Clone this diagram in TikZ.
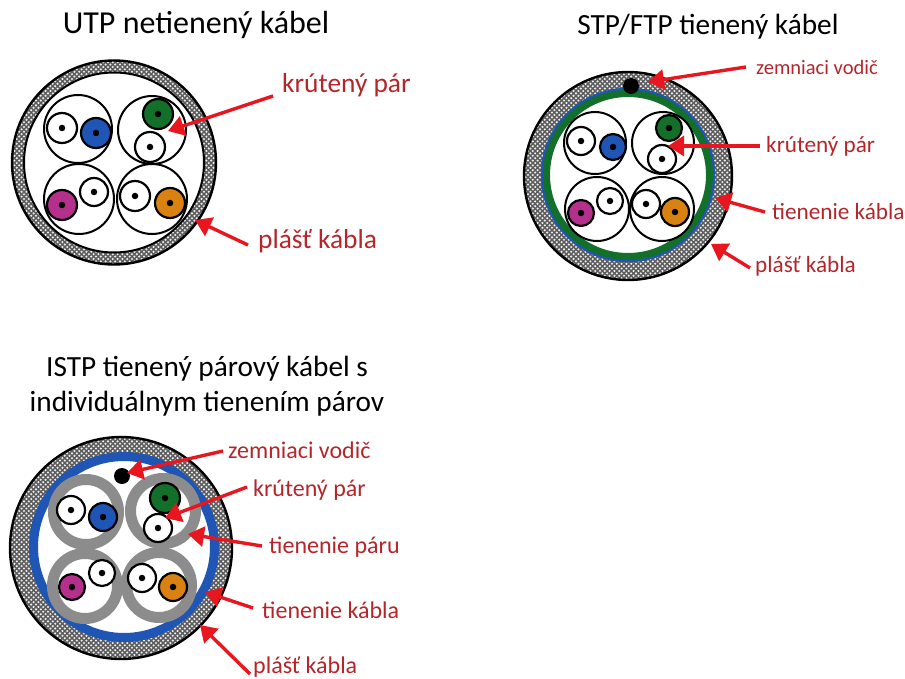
\documentclass[tikz,border=0pt]{standalone}
\usepackage{fontspec}
\setmainfont{Carlito}
\usetikzlibrary{arrows.meta,patterns}
\pgfdeclarepatternformonly{jacketdots}{\pgfqpoint{-2pt}{-2pt}}{\pgfqpoint{6pt}{6pt}}{\pgfqpoint{4.8pt}{4.8pt}}{%
  \pgfpathcircle{\pgfqpoint{0pt}{0pt}}{1.15pt}%
  \pgfpathcircle{\pgfqpoint{2.4pt}{2.4pt}}{1.15pt}%
  \pgfusepath{fill}}
\definecolor{lblred}{HTML}{B5262B}
\definecolor{arrred}{HTML}{E8161F}
\definecolor{wblue}{HTML}{1F55B5}
\definecolor{wgreen}{HTML}{12702A}
\definecolor{wmag}{HTML}{B5308C}
\definecolor{worange}{HTML}{D98212}
\definecolor{shield}{HTML}{8C8C8C}
\tikzset{
  disc/.style={circle,inner sep=0pt,outer sep=0pt,line width=#1},
  disc/.default=2pt,
  jacket/.style={disc=2.4pt,draw=black,preaction={fill=black!64},pattern=jacketdots,pattern color=black!6},
  pairc/.style={disc=2pt,draw=black,fill=white},
  ringc/.style={disc=11pt,draw=shield,fill=white},
  grounddot/.style={circle,inner sep=0pt,fill=black,minimum size=16pt},
  core/.style={circle,inner sep=0pt,fill=black,minimum size=6.5pt},
  title/.style={font=\fontsize{32}{36}\selectfont,text=black,inner sep=0pt},
  titlesm/.style={font=\fontsize{29.3}{33}\selectfont,text=black,inner sep=0pt},
  lbl/.style={font=\fontsize{27.4}{32}\selectfont,text=lblred,inner sep=0pt},
  lblb/.style={font=\fontsize{23.2}{27}\selectfont,text=lblred,inner sep=0pt},
  lblc/.style={font=\fontsize{24}{28}\selectfont,text=lblred,inner sep=0pt},
  lblsm/.style={font=\fontsize{20.5}{24}\selectfont,text=lblred,inner sep=0pt},
  redarrow/.style={draw=arrred,line width=3.4pt,-{Triangle[length=16pt,width=20pt]}}
}
\newcommand{\wire}[5]{% name x y r colour
  \node[disc=2.2pt,draw=black,fill=#5,minimum size=#4*2pt] (#1) at (#2,#3) {};
  \node[core] at (#1) {};
}
\newcommand{\pairdisc}[5][pairc]{\node[#1,minimum size=#5*2pt] (#2) at (#3,#4) {};}
\begin{document}
\begin{tikzpicture}[x=1pt,y=-1pt]
\useasboundingbox (0,0) rectangle (905,679);
\fill[white] (0,0) rectangle (905,679);

% ---- UTP
\node[title] (t1) at (196,25) {UTP netienený kábel};
\node[jacket,minimum size=204pt] (a0) at (114,162.5) {};
\node[disc=2pt,draw=black,fill=white,minimum size=180pt] (a1) at (114,162.5) {};
\pairdisc{ap1}{78}{129}{34}
\pairdisc{ap2}{152}{130}{34}
\pairdisc{ap3}{79}{199}{35}
\pairdisc{ap4}{152}{199}{35}
\wire{aw1}{62}{128}{15}{white}
\wire{aw2}{96}{133}{15}{wblue}
\wire{aw3}{158}{114}{15}{wgreen}
\wire{aw4}{150}{147}{15}{white}
\wire{aw5}{62}{205}{15}{wmag}
\wire{aw6}{94}{192}{14}{white}
\wire{aw7}{135}{196}{15}{white}
\wire{aw8}{170}{203}{15}{worange}
\node[lbl,anchor=west] (al1) at (282,85) {krútený pár};
\node[lbl,anchor=west] (al2) at (258,241) {plášť kábla};
\coordinate (ah1) at (168,131);
\coordinate (ah2) at (195,220);
\draw[redarrow] ([shift={(-9,11)}]al1.west) -- (ah1);
\draw[redarrow] ([shift={(-10,4)}]al2.west) -- (ah2);

% ---- STP/FTP
\node[titlesm] (t2) at (708,27) {STP/FTP tienený kábel};
\node[jacket,minimum size=208pt] (b0) at (628,176) {};
\node[disc=0pt,fill=wblue,minimum size=174.5pt] (b1) at (628,175) {};
\node[disc=7pt,draw=wgreen,fill=white,minimum size=163pt] (b2) at (628,175) {};
\node[grounddot] (bg) at (631,86) {};
\pairdisc{bp1}{595}{143}{31}
\pairdisc{bp2}{663}{143}{31}
\pairdisc{bp3}{597}{209}{32}
\pairdisc{bp4}{662}{209}{32}
\wire{bw1}{581}{141}{14}{white}
\wire{bw2}{613}{147}{13}{wblue}
\wire{bw3}{669}{128}{13}{wgreen}
\wire{bw4}{662}{159}{14}{white}
\wire{bw5}{581}{213}{13}{wmag}
\wire{bw6}{610}{201}{13}{white}
\wire{bw7}{646}{204}{14}{white}
\wire{bw8}{675}{212}{14}{worange}
\node[lblsm,anchor=west] (bl1) at (756,67) {zemniaci vodič};
\node[lblb,anchor=west] (bl2) at (766,146) {krútený pár};
\node[lblb,anchor=west] (bl3) at (772,212) {tienenie kábla};
\node[lblb,anchor=west] (bl4) at (755,266) {plášť kábla};
\coordinate (bh1) at (648,82);
\coordinate (bh2) at (668,146);
\coordinate (bh3) at (715,198);
\coordinate (bh4) at (711,244);
\draw[redarrow] ([xshift=-10]bl1.west) -- (bh1);
\draw[redarrow] ([xshift=-6]bl2.west) -- (bh2);
\draw[redarrow] ([xshift=-7]bl3.west) -- (bh3);
\draw[redarrow] ([shift={(-5,2)}]bl4.west) -- (bh4);

% ---- ISTP
\node[titlesm,align=center] (t3) at (207,386) {ISTP tienený párový kábel s\\[1.5pt]individuálnym tienením párov};
\node[jacket,minimum size=222pt] (c0) at (121,548) {};
\node[disc=9pt,draw=wblue,fill=white,minimum size=181pt] (c1) at (124,547) {};
\node[grounddot] (cg) at (122,476) {};
\pairdisc[ringc]{cp1}{86}{512}{32.5}
\pairdisc[ringc]{cp2}{163}{511}{32.5}
\pairdisc[ringc]{cp3}{85}{586}{32.5}
\pairdisc[ringc]{cp4}{159}{585}{32.5}
\wire{cw1}{71}{510}{14}{white}
\wire{cw2}{103}{517}{14}{wblue}
\wire{cw3}{165}{498}{15}{wgreen}
\wire{cw4}{158}{528}{14}{white}
\wire{cw5}{72}{587}{13}{wmag}
\wire{cw6}{102}{573}{13}{white}
\wire{cw7}{142}{578}{14}{white}
\wire{cw8}{173}{587}{14}{worange}
\node[lblc,anchor=west] (cl1) at (228,450) {zemniaci vodič};
\node[lblc,anchor=west] (cl2) at (253,490) {krútený pár};
\node[lblc,anchor=west] (cl3) at (269,547) {tienenie páru};
\node[lblc,anchor=west] (cl4) at (262,610) {tienenie kábla};
\node[lblc,anchor=west] (cl5) at (253,667) {plášť kábla};
\coordinate (ch1) at (127,473);
\coordinate (ch2) at (165,518);
\coordinate (ch3) at (188,534);
\coordinate (ch4) at (205,592);
\coordinate (ch5) at (200,625);
\draw[redarrow] ([shift={(-5,1)}]cl1.west) -- (ch1);
\draw[redarrow] ([shift={(-6,-3)}]cl2.west) -- (ch2);
\draw[redarrow] ([xshift=-7,yshift=1]cl3.west) -- (ch3);
\draw[redarrow] ([xshift=-9,yshift=2]cl4.west) -- (ch4);
\draw[redarrow] ([xshift=-3,yshift=-7]cl5.west) -- (ch5);
\end{tikzpicture}
\end{document}
